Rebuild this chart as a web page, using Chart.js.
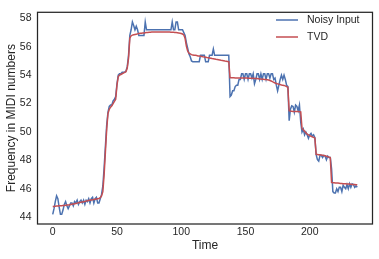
<!DOCTYPE html>
<html>
<head>
<meta charset="utf-8">
<script src="https://cdn.jsdelivr.net/npm/chart.js@4.4.1/dist/chart.umd.min.js"></script>
<style>
  html, body { margin: 0; padding: 0; background: #fff; }
  #wrap { width: 379px; height: 259px; }
</style>
</head>
<body>
<div id="wrap"><canvas id="chart"></canvas></div>
<script>
const noisy = [
  44.2, 44.6, 45.1, 45.5, 45.3, 44.7, 44.2, 44.2, 44.5, 44.9,
  45.1, 44.8, 44.6, 44.8, 45.0, 45.0, 44.8, 45.1, 45.0, 45.2,
  44.9, 45.1, 45.2, 45.0, 45.2, 44.9, 45.2, 45.1, 45.3, 45.0,
  45.3, 45.4, 45.0, 45.3, 45.4, 45.0, 45.0, 45.3, 45.6, 46.2,
  47.5, 49.0, 50.5, 51.4, 51.8, 51.9, 51.9, 52.2, 52.3, 52.5,
  53.4, 54.0, 54.1, 54.1, 54.2, 54.2, 54.2, 54.3, 54.6, 55.4,
  56.8, 57.2, 57.75, 57.5, 57.2, 57.45, 57.2, 56.8, 56.8, 56.8,
  56.8, 56.8, 57.75, 57.2, 57.2, 57.2, 57.2, 57.2, 57.2, 57.2,
  57.2, 57.2, 57.2, 57.2, 57.2, 57.2, 57.2, 57.2, 57.2, 57.2,
  57.2, 57.2, 57.2, 57.75, 57.2, 57.2, 57.75, 57.75, 57.2, 57.2,
  57.2, 57.2, 57.0, 56.8, 56.3, 55.9, 55.5, 55.3, 55.0, 54.95,
  54.95, 54.95, 54.95, 54.95, 54.95, 55.4, 55.4, 55.4, 55.4, 54.95,
  54.95, 54.95, 55.4, 55.4, 55.4, 55.85, 55.4, 55.4, 55.4, 55.4,
  55.4, 55.4, 55.4, 55.4, 55.4, 55.4, 55.4, 55.4, 52.5, 52.6,
  52.9, 52.9, 53.2, 53.3, 53.3, 53.7, 53.7, 54.1, 54.1, 53.7,
  54.1, 54.1, 53.7, 54.1, 54.1, 53.8, 54.1, 53.4, 53.7, 54.1,
  54.1, 53.7, 54.1, 53.7, 54.1, 54.1, 53.7, 54.1, 54.1, 53.8,
  54.1, 54.1, 53.7, 53.8, 53.3, 52.9, 53.3, 53.7, 54.0, 53.7,
  54.0, 53.7, 53.3, 53.2, 50.8, 51.6, 51.85, 51.8, 51.4, 51.9,
  51.8, 51.5, 51.9, 50.7, 50.0, 50.2, 49.8, 50.0, 49.8, 49.55,
  49.8, 49.9, 49.7, 49.8, 49.6, 48.4, 48.05, 47.95, 48.35, 48.35,
  48.2, 48.35, 48.3, 48.05, 48.3, 48.2, 48.2, 47.4, 45.8, 45.7,
  45.7, 46.0, 45.8, 46.1, 46.1, 45.8, 46.25, 46.1, 46.0, 46.3,
  46.0, 46.35, 46.1, 46.35, 46.3, 46.1, 46.2, 46.1
];

const tvd = [
  44.75, 44.76, 44.77, 44.78, 44.79, 44.80, 44.81, 44.81, 44.82, 44.83,
  44.84, 44.85, 44.86, 44.87, 44.89, 44.91, 44.93, 44.95, 44.97, 44.99,
  45.01, 45.03, 45.05, 45.07, 45.09, 45.11, 45.13, 45.15, 45.17, 45.19,
  45.21, 45.22, 45.24, 45.26, 45.28, 45.30, 45.32, 45.38, 45.5, 45.8,
  47.0, 48.6, 50.2, 51.3, 51.6, 51.75, 51.85, 52.0, 52.15, 52.3,
  53.3, 53.9, 54.0, 54.05, 54.1, 54.15, 54.2, 54.25, 54.5, 55.2,
  56.6, 56.78, 56.82, 56.85, 56.87, 56.89, 56.91, 56.93, 56.95, 56.96,
  56.97, 56.98, 56.99, 57.0, 57.01, 57.02, 57.03, 57.04, 57.04, 57.05,
  57.05, 57.05, 57.05, 57.05, 57.05, 57.05, 57.05, 57.05, 57.05, 57.04,
  57.04, 57.04, 57.03, 57.03, 57.02, 57.01, 57.0, 56.99, 56.98, 56.96,
  56.94, 56.9, 56.84, 56.6, 56.05, 55.7, 55.55, 55.5, 55.45, 55.43,
  55.41, 55.40, 55.38, 55.36, 55.35, 55.33, 55.31, 55.29, 55.28, 55.26,
  55.24, 55.23, 55.21, 55.19, 55.17, 55.16, 55.14, 55.12, 55.11, 55.09,
  55.07, 55.05, 55.04, 55.02, 55.0, 54.99, 54.97, 54.95, 53.82, 53.82,
  53.82, 53.82, 53.81, 53.81, 53.81, 53.81, 53.81, 53.80, 53.80, 53.80,
  53.80, 53.80, 53.79, 53.79, 53.79, 53.78, 53.78, 53.77, 53.77, 53.76,
  53.75, 53.74, 53.73, 53.72, 53.71, 53.70, 53.69, 53.68, 53.66, 53.63,
  53.59, 53.55, 53.5, 53.45, 53.42, 53.39, 53.36, 53.34, 53.31, 53.29,
  53.27, 53.25, 53.2, 53.15, 51.5, 51.47, 51.46, 51.45, 51.45, 51.45,
  51.44, 51.44, 51.43, 51.42, 50.25, 50.15, 50.05, 49.95, 49.85, 49.8,
  49.75, 49.7, 49.66, 49.62, 49.58, 48.42, 48.41, 48.4, 48.39, 48.38,
  48.36, 48.34, 48.32, 48.29, 48.26, 48.23, 48.2, 46.45, 46.43, 46.42,
  46.41, 46.4, 46.4, 46.39, 46.38, 46.37, 46.36, 46.35, 46.35, 46.34,
  46.33, 46.33, 46.32, 46.31, 46.3, 46.3, 46.29, 46.28
];

const xTicks = [0, 50, 100, 150, 200];
const yTicks = [44, 46, 48, 50, 52, 54, 56, 58];
const seriesNames = ['Noisy Input', 'TVD'];

const INK = '#262626';
const BLUE = '#4c72b0';
const RED = '#c44e52';
const FONT = "'Liberation Sans', Arial, sans-serif";

const toPoints = values => values.map((v, i) => ({ x: i, y: v }));

// full box around the plot area (seaborn white style)
const frame = {
  id: 'frame',
  afterDatasetsDraw(chart) {
    const { ctx, chartArea: a } = chart;
    ctx.save();
    ctx.strokeStyle = INK;
    ctx.lineWidth = 1.25;
    ctx.strokeRect(a.left, a.top, a.right - a.left, a.bottom - a.top);
    ctx.restore();
  },
};

// legend in the upper right corner, line + label
const cornerLegend = {
  id: 'cornerLegend',
  afterDraw(chart) {
    const { ctx } = chart;
    ctx.save();
    ctx.font = `10.5px ${FONT}`;
    ctx.textBaseline = 'middle';
    ctx.fillStyle = INK;
    ctx.lineWidth = 1.5;
    chart.data.datasets.forEach((ds, i) => {
      const y = 20 + i * 17;
      ctx.strokeStyle = ds.borderColor;
      ctx.beginPath();
      ctx.moveTo(276, y);
      ctx.lineTo(298, y);
      ctx.stroke();
      ctx.fillText(ds.label, 307, y);
    });
    ctx.restore();
  },
};

new Chart(document.getElementById('chart').getContext('2d'), {
  type: 'line',
  data: {
    datasets: [
      {
        label: seriesNames[0],
        data: toPoints(noisy),
        borderColor: BLUE,
        borderWidth: 1.5,
        pointRadius: 0,
        tension: 0,
        order: 2,
      },
      {
        label: seriesNames[1],
        data: toPoints(tvd),
        borderColor: RED,
        borderWidth: 1.5,
        pointRadius: 0,
        tension: 0,
        order: 1,
      },
    ],
  },
  options: {
    responsive: true,
    maintainAspectRatio: false,
    animation: false,
    devicePixelRatio: 1,
    layout: { padding: { top: 6, right: 6.5, left: 0, bottom: 0 } },
    plugins: {
      legend: { display: false },
      tooltip: { enabled: false },
    },
    scales: {
      x: {
        type: 'linear',
        min: -11.85,
        max: 248.85,
        grid: { display: false, drawTicks: false },
        border: { display: false },
        afterBuildTicks: scale => { scale.ticks = xTicks.map(v => ({ value: v })); },
        afterFit: scale => { scale.height = 35; },
        ticks: {
          color: INK,
          font: { family: FONT, size: 10.5 },
          padding: 2,
          maxRotation: 0,
          callback: v => String(v),
        },
        title: {
          display: true,
          text: 'Time',
          color: INK,
          font: { family: FONT, size: 12 },
          padding: { top: 0, bottom: 6 },
        },
      },
      y: {
        min: 43.52,
        max: 58.43,
        grid: { display: false, drawTicks: false },
        border: { display: false },
        afterBuildTicks: scale => { scale.ticks = yTicks.map(v => ({ value: v })); },
        afterFit: scale => { scale.width = 37.5; },
        ticks: {
          color: INK,
          font: { family: FONT, size: 10.5 },
          padding: 6,
          callback: v => String(v),
        },
        title: {
          display: true,
          text: 'Frequency in MIDI numbers',
          color: INK,
          font: { family: FONT, size: 12 },
        },
      },
    },
  },
  plugins: [frame, cornerLegend],
});
</script>
</body>
</html>
